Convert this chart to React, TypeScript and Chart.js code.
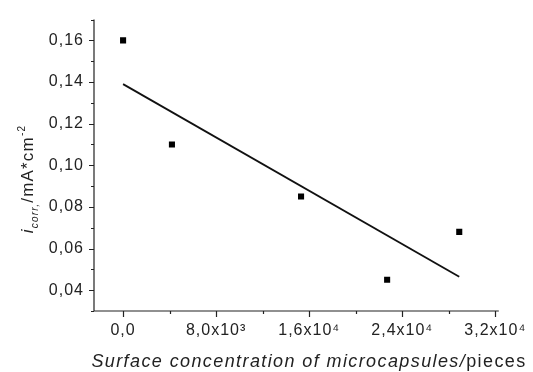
import React, { useEffect, useRef } from 'react';
import { Chart, registerables } from 'chart.js';

Chart.register(...registerables);

// Measured points (surface concentration, corrosion current)
const pointX = [0, 4200, 15300, 22700, 28900];
const pointY = [0.16, 0.11, 0.085, 0.045, 0.068];

// Fitted line end points
const fitX = [0, 28900];
const fitY = [0.139, 0.0465];

// Axis ticks
const xTickValues = [0, 4000, 8000, 12000, 16000, 20000, 24000, 28000, 32000];
const xMajorValues = [0, 8000, 16000, 24000, 32000];
const xTickLabels = ['0,0', '8,0x10³', '1,6x10⁴', '2,4x10⁴', '3,2x10⁴'];
const yTickValues = [0.03, 0.04, 0.05, 0.06, 0.07, 0.08, 0.09, 0.1, 0.11, 0.12, 0.13, 0.14, 0.15, 0.16, 0.17];
const yMajorValues = [0.04, 0.06, 0.08, 0.1, 0.12, 0.14, 0.16];
const yTickLabels = ['0,04', '0,06', '0,08', '0,10', '0,12', '0,14', '0,16'];

// Axis titles
const xTitleItalic = 'Surface concentration of microcapsules/';
const xTitleUnit = 'pieces';
const yTitleMain = 'i';
const yTitleSub = 'corr,';
const yTitleUnit = '/mA*cm';
const yTitleSup = '-2';

const FONT = "'Liberation Sans', Arial, sans-serif";

const findIndex = (arr: number[], v: number) => arr.findIndex((a) => Math.abs(a - v) < 1e-9);

const decorPlugin = {
  id: 'decor',
  beforeDraw(chart: any) {
    chart.ctx.letterSpacing = '1px';
  },
  afterDraw(chart: any) {
    const ctx = chart.ctx as CanvasRenderingContext2D;
    const { left, right, top, bottom } = chart.chartArea;
    const xs = chart.scales.x;
    const ys = chart.scales.y;
    ctx.save();
    ctx.strokeStyle = '#222';
    ctx.lineWidth = 1.2;
    ctx.beginPath();
    ctx.moveTo(left, top);
    ctx.lineTo(left, bottom);
    ctx.lineTo(right, bottom);
    xs.ticks.forEach((t: any) => {
      const px = Math.round(xs.getPixelForValue(t.value)) + 0.5;
      const len = findIndex(xMajorValues, t.value) >= 0 ? 6 : 3;
      ctx.moveTo(px, bottom);
      ctx.lineTo(px, bottom + len);
    });
    ys.ticks.forEach((t: any) => {
      const py = Math.round(ys.getPixelForValue(t.value)) + 0.5;
      const len = findIndex(yMajorValues, t.value) >= 0 ? 5 : 3;
      ctx.moveTo(left, py);
      ctx.lineTo(left - len, py);
    });
    ctx.stroke();

    ctx.fillStyle = '#222';
    ctx.textBaseline = 'alphabetic';
    ctx.textAlign = 'left';

    // X title
    ctx.letterSpacing = '1.4px';
    const fIt = `italic 18px ${FONT}`;
    const fUp = `18px ${FONT}`;
    ctx.font = fIt;
    const w1 = ctx.measureText(xTitleItalic).width;
    ctx.font = fUp;
    const w2 = ctx.measureText(xTitleUnit).width;
    const cx = 309;
    const sx = cx - (w1 + w2) / 2;
    ctx.font = fIt;
    ctx.fillText(xTitleItalic, sx, 367);
    ctx.font = fUp;
    ctx.fillText(xTitleUnit, sx + w1, 367);

    // Y title (rotated)
    ctx.letterSpacing = '1.2px';
    ctx.save();
    ctx.translate(33, 179);
    ctx.rotate(-Math.PI / 2);
    const fMain = `italic 17px ${FONT}`;
    const fSub = `italic 10px ${FONT}`;
    const fUnit = `17px ${FONT}`;
    const fSup = `10px ${FONT}`;
    ctx.font = fMain;
    const a = ctx.measureText(yTitleMain).width;
    ctx.font = fSub;
    const b = ctx.measureText(yTitleSub).width;
    ctx.font = fUnit;
    const c = ctx.measureText(yTitleUnit).width;
    ctx.font = fSup;
    const d = ctx.measureText(yTitleSup).width;
    let p = -(a + b + c + d) / 2;
    ctx.font = fMain;
    ctx.fillText(yTitleMain, p, 0);
    p += a;
    ctx.font = fSub;
    ctx.fillText(yTitleSub, p, 5);
    p += b;
    ctx.font = fUnit;
    ctx.fillText(yTitleUnit, p, 0);
    p += c;
    ctx.font = fSup;
    ctx.fillText(yTitleSup, p, -8);
    ctx.restore();

    ctx.restore();
  },
};

export default function App() {
  const ref = useRef<HTMLCanvasElement | null>(null);

  useEffect(() => {
    if (!ref.current) return;
    const chart = new Chart(ref.current, {
      type: 'scatter',
      data: {
        datasets: [
          {
            label: 'fit',
            data: fitX.map((x, i) => ({ x, y: fitY[i] })),
            showLine: true,
            borderColor: '#111',
            borderWidth: 1.8,
            pointRadius: 0,
            fill: false,
          },
          {
            label: 'points',
            data: pointX.map((x, i) => ({ x, y: pointY[i] })),
            pointStyle: 'rect',
            pointRadius: 4.3,
            backgroundColor: '#000',
            borderColor: '#000',
            borderWidth: 0,
            showLine: false,
          },
        ],
      },
      options: {
        animation: false,
        responsive: true,
        maintainAspectRatio: false,
        layout: { padding: { top: 13, right: 27, left: 0, bottom: 0 } },
        plugins: { legend: { display: false }, tooltip: { enabled: false } },
        scales: {
          x: {
            type: 'linear',
            min: -2500,
            max: 32300,
            grid: { display: false, drawTicks: false },
            border: { display: false },
            afterBuildTicks: (scale: any) => {
              scale.ticks = xTickValues.map((v) => ({ value: v }));
            },
            afterFit: (scale: any) => {
              scale.height = 61;
            },
            ticks: {
              padding: 10,
              maxRotation: 0,
              autoSkip: false,
              color: '#222',
              font: { family: FONT, size: 16 },
              callback: (v: any) => {
                const i = findIndex(xMajorValues, Number(v));
                return i >= 0 ? xTickLabels[i] : '';
              },
            },
          },
          y: {
            type: 'linear',
            min: 0.03,
            max: 0.17,
            grid: { display: false, drawTicks: false },
            border: { display: false },
            afterBuildTicks: (scale: any) => {
              scale.ticks = yTickValues.map((v) => ({ value: v }));
            },
            afterFit: (scale: any) => {
              scale.width = 94;
            },
            ticks: {
              padding: 10,
              autoSkip: false,
              color: '#222',
              font: { family: FONT, size: 16 },
              callback: (v: any) => {
                const i = findIndex(yMajorValues, Number(v));
                return i >= 0 ? yTickLabels[i] : '';
              },
            },
          },
        },
      },
      plugins: [decorPlugin],
    });
    return () => chart.destroy();
  }, []);

  return (
    <div style={{ position: 'absolute', left: 0, top: 0, width: 533, height: 372, background: '#fff' }}>
      <canvas ref={ref} />
    </div>
  );
}
